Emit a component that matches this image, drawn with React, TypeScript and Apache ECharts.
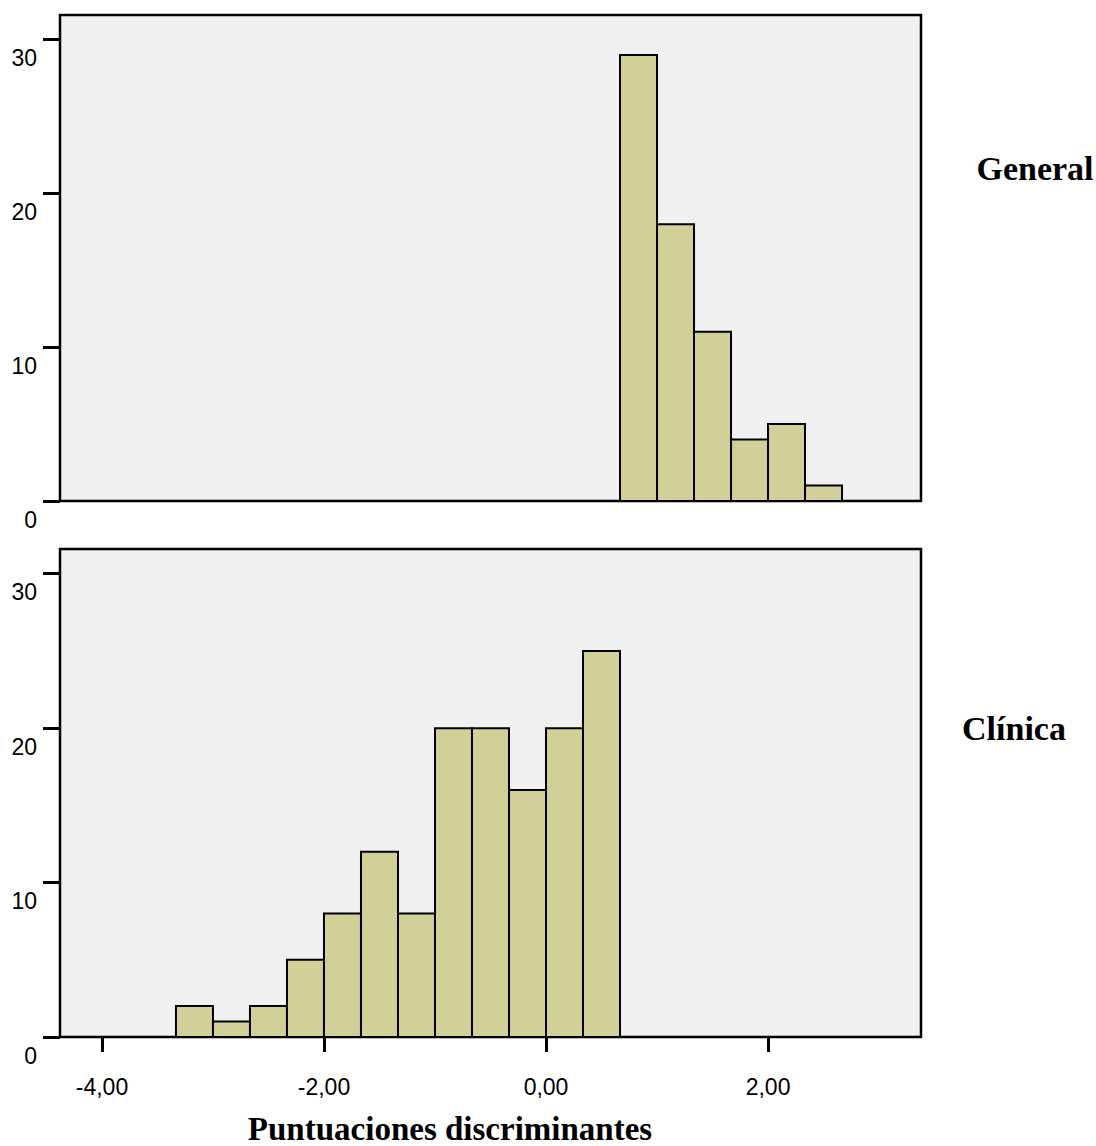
import React, { useEffect, useRef } from "react";
import * as echarts from "echarts";

// Histogram bins (discriminant scores), lower and upper edges
const generalLow = [0.6667, 1.0, 1.3333, 1.6667, 2.0, 2.3333];
const generalHigh = [1.0, 1.3333, 1.6667, 2.0, 2.3333, 2.6667];
const generalCounts = [29, 18, 11, 4, 5, 1];

const clinicaLow = [-3.3333, -3.0, -2.6667, -2.3333, -2.0, -1.6667, -1.3333, -1.0, -0.6667, -0.3333, 0.0, 0.3333];
const clinicaHigh = [-3.0, -2.6667, -2.3333, -2.0, -1.6667, -1.3333, -1.0, -0.6667, -0.3333, 0.0, 0.3333, 0.6667];
const clinicaCounts = [2, 1, 2, 5, 8, 12, 8, 20, 20, 16, 20, 25];

const xTicks = [-4, -2, 0, 2];
const yTicks = [0, 10, 20, 30];
const panelLabels = ["General", "Clínica"];
const xTitle = "Puntuaciones discriminantes";

const BAR = "#d3cf98";
const PLOT_BG = "#f0f0f0";
const SANS = "'Liberation Sans', Arial, sans-serif";
const SERIF = "'Liberation Serif', 'Times New Roman', serif";

export default function App() {
  const ref = useRef<HTMLDivElement>(null);
  useEffect(() => {
    if (!ref.current) return;
    const chart = echarts.init(ref.current, undefined, { renderer: "svg" });

    const renderItem = (params: any, api: any) => {
      const x0 = api.value(0);
      const x1 = api.value(1);
      const c = api.value(2);
      const p0 = api.coord([x0, c]);
      const p1 = api.coord([x1, 0]);
      return {
        type: "rect",
        shape: { x: p0[0], y: p0[1], width: p1[0] - p0[0], height: p1[1] - p0[1] },
        style: { fill: BAR, stroke: "#000", lineWidth: 2 },
      };
    };

    const gridBase = {
      left: 60,
      width: 861,
      show: true,
      backgroundColor: PLOT_BG,
      borderColor: "#000",
      borderWidth: 2.5,
    };

    const yAxisBase = (gridIndex: number) => ({
      gridIndex,
      type: "value",
      position: "left",
      min: 0,
      max: 31.6,
      axisLine: { show: false, onZero: false },
      splitLine: { show: false },
      axisTick: {
        show: true,
        length: 17,
        customValues: yTicks,
        lineStyle: { color: "#000", width: 3 },
      },
      axisLabel: {
        customValues: yTicks,
        margin: 23,
        verticalAlign: "top",
        padding: [7, 0, 0, 0],
        fontSize: 23,
        color: "#000",
        fontFamily: SANS,
      },
    });

    const xAxisCommon = {
      type: "value",
      min: -4.378,
      max: 3.378,
      position: "bottom",
      splitLine: { show: false },
    };

    const option: any = {
      animation: false,
      backgroundColor: "#fff",
      grid: [
        { ...gridBase, top: 15, height: 486 },
        { ...gridBase, top: 549, height: 488 },
      ],
      xAxis: [
        {
          ...xAxisCommon,
          gridIndex: 0,
          axisLine: { show: false, onZero: false },
          axisTick: { show: false },
          axisLabel: { show: false },
        },
        {
          ...xAxisCommon,
          gridIndex: 1,
          axisLine: { show: false, onZero: false },
          axisTick: {
            show: true,
            length: 15,
            customValues: xTicks,
            lineStyle: { color: "#000", width: 3 },
          },
          axisLabel: {
            customValues: xTicks,
            margin: 38,
            fontSize: 23,
            color: "#000",
            fontFamily: SANS,
            formatter: (v: number) => v.toFixed(2).replace(".", ","),
          },
        },
      ],
      yAxis: [yAxisBase(0), yAxisBase(1)],
      series: [
        {
          type: "custom",
          xAxisIndex: 0,
          yAxisIndex: 0,
          renderItem,
          encode: { x: [0, 1], y: 2 },
          data: generalCounts.map((c, i) => [generalLow[i], generalHigh[i], c]),
        },
        {
          type: "custom",
          xAxisIndex: 1,
          yAxisIndex: 1,
          renderItem,
          encode: { x: [0, 1], y: 2 },
          data: clinicaCounts.map((c, i) => [clinicaLow[i], clinicaHigh[i], c]),
        },
      ],
      graphic: [
        {
          type: "text",
          x: 1035,
          y: 168,
          style: {
            text: panelLabels[0],
            font: `bold 34px ${SERIF}`,
            fill: "#000",
            textAlign: "center",
            textVerticalAlign: "middle",
          },
        },
        {
          type: "text",
          x: 1014,
          y: 728,
          style: {
            text: panelLabels[1],
            font: `bold 34px ${SERIF}`,
            fill: "#000",
            textAlign: "center",
            textVerticalAlign: "middle",
          },
        },
        {
          type: "text",
          x: 450,
          y: 1129,
          style: {
            text: xTitle,
            font: `bold 33px ${SERIF}`,
            fill: "#000",
            textAlign: "center",
            textVerticalAlign: "middle",
          },
        },
      ],
    };

    chart.setOption(option);
    return () => chart.dispose();
  }, []);

  return (
    <div
      ref={ref}
      style={{ position: "absolute", left: 0, top: 0, width: 1096, height: 1146 }}
    />
  );
}
